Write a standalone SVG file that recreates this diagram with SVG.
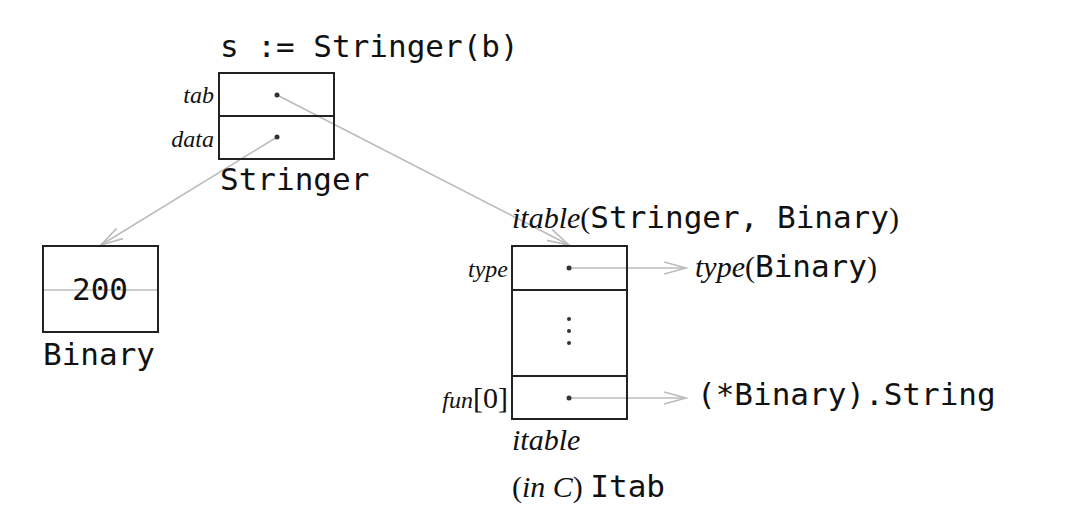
<svg xmlns="http://www.w3.org/2000/svg" width="1066" height="526" viewBox="0 0 1066 526">
<style>
.box{fill:none;stroke:#222;stroke-width:2}
.m{font-family:"DejaVu Sans Mono",monospace;font-size:31px;fill:#111}
.s{font-family:"Liberation Serif",serif;font-style:italic;font-size:24px;fill:#111}
.S{font-family:"Liberation Serif",serif;font-style:italic;font-size:30px;fill:#111}
.r{font-family:"Liberation Serif",serif;font-size:30px;fill:#111}
.a{stroke:#bbb;stroke-width:1.6;fill:none}
.d{fill:#333}
</style>
<defs><marker id="ah" markerWidth="24" markerHeight="14" refX="22" refY="7" orient="auto" markerUnits="userSpaceOnUse"><path d="M0,1 L22,7 L0,13" fill="none" stroke="#bbb" stroke-width="1.6"/></marker></defs>
<rect width="1066" height="526" fill="#fff"/>
<g id="connectors">
<line class="a" x1="277" y1="95" x2="569" y2="245" marker-end="url(#ah)"/>
<line class="a" x1="277" y1="137" x2="101" y2="245" marker-end="url(#ah)"/>
<line class="a" x1="569" y1="268" x2="686" y2="268" marker-end="url(#ah)"/>
<line class="a" x1="569" y1="398" x2="686" y2="398" marker-end="url(#ah)"/>
<line class="a" x1="43" y1="290" x2="158" y2="290"/>
</g>
<g id="stringer">
<text class="m" x="220" y="57">s := Stringer(b)</text>
<rect class="box" x="219" y="73" width="115" height="86"/>
<line class="box" x1="219" y1="116" x2="334" y2="116"/>
<circle class="d" cx="277" cy="95" r="2.5"/><circle class="d" cx="277" cy="137" r="2.5"/>
<text class="s" x="214" y="103" text-anchor="end">tab</text>
<text class="s" x="214" y="147" text-anchor="end">data</text>
<text class="m" x="220" y="190">Stringer</text>
</g>
<g id="binary">
<rect class="box" x="43" y="246" width="115" height="86"/>
<text class="m" x="100" y="300" text-anchor="middle">200</text>
<text class="m" x="43" y="365">Binary</text>
</g>
<g id="itable">
<text x="512" y="228"><tspan class="S">itable</tspan><tspan class="r">(</tspan><tspan class="m">Stringer, Binary</tspan><tspan class="r">)</tspan></text>
<rect class="box" x="512" y="246" width="115" height="173"/>
<line class="box" x1="512" y1="290" x2="627" y2="290"/>
<line class="box" x1="512" y1="376" x2="627" y2="376"/>
<circle class="d" cx="569" cy="268" r="2.5"/><circle class="d" cx="569" cy="398" r="2.5"/>
<circle class="d" cx="569" cy="319" r="2"/><circle class="d" cx="569" cy="331" r="2"/><circle class="d" cx="569" cy="343" r="2"/>
<text class="s" x="508" y="277" text-anchor="end">type</text>
<text x="508" y="408" text-anchor="end"><tspan class="s">fun</tspan><tspan class="r" font-size="24">[0]</tspan></text>
<text x="695" y="277"><tspan class="S">type</tspan><tspan class="r">(</tspan><tspan class="m">Binary</tspan><tspan class="r">)</tspan></text>
<text class="m" x="697" y="405">(*Binary).String</text>
<text class="S" x="512" y="450">itable</text>
<text x="512" y="497"><tspan class="r">(</tspan><tspan class="S">in C</tspan><tspan class="r">) </tspan><tspan class="m">Itab</tspan></text>
</g>
</svg>
